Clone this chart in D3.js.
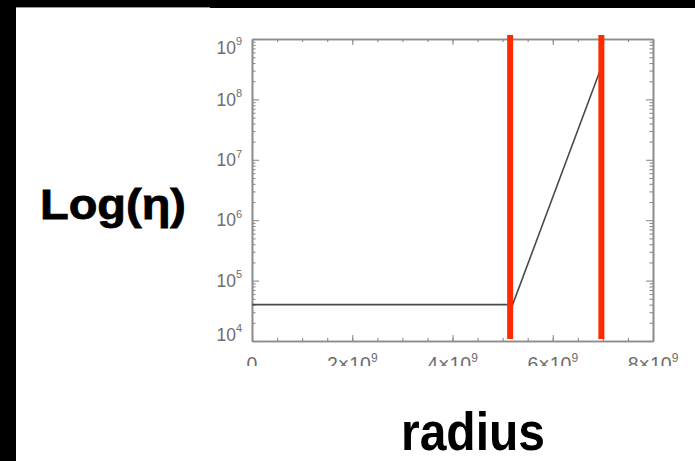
<!DOCTYPE html>
<html><head><meta charset="utf-8">
<script src="https://cdn.jsdelivr.net/npm/d3@7"></script>
<style>body{margin:0;background:#fff}svg{display:block}</style>
</head><body><svg id="c" width="695" height="461"></svg>
<script>
// Data
const radius = [0, 5.2e9, 7.0e9];
const eta = [4e4, 4e4, 4e8];
const boundaries = [5.15e9, 6.97e9];
const xTicks = [0, 2e9, 4e9, 6e9, 8e9];
const xTickMantissa = ["0", "2×10", "4×10", "6×10", "8×10"];
const xTickExp = ["", "9", "9", "9", "9"];
const yTicks = [1e4, 1e5, 1e6, 1e7, 1e8, 1e9];
const yTickExp = ["4", "5", "6", "7", "8", "9"];
const xLabel = "radius";
const yLabel = "Log(η)";

const svg = d3.select("#c");
const L = 252, R = 653, T = 39, B = 341;
const x = d3.scaleLinear().domain([0, 8e9]).range([L, R]);
const y = d3.scaleLog().domain([1e4, 1e9]).range([B, T]);

// frame of the slide
svg.append("rect").attr("x", 0).attr("y", 0).attr("width", 695).attr("height", 461).attr("fill", "#fff");
svg.append("rect").attr("x", 0).attr("y", 0).attr("width", 16).attr("height", 461).attr("fill", "#000");
svg.append("rect").attr("x", 0).attr("y", 0).attr("width", 695).attr("height", 8).attr("fill", "#000");
svg.append("line").attr("x1", 16).attr("x2", 210).attr("y1", 7.5).attr("y2", 7.5).attr("stroke", "#999").attr("stroke-width", 1);

const clip = svg.append("defs").append("clipPath").attr("id", "clipimg");
clip.append("rect").attr("x", 160).attr("y", 8).attr("width", 535).attr("height", 358);
const g = svg.append("g").attr("clip-path", "url(#clipimg)");

const axisColor = "#8c8c8c";
const xMinor = d3.range(0, 8e9 + 1, 0.5e9);
const yMinor = [];
for (let k = 4; k < 9; k++) for (let m = 2; m <= 9; m++) yMinor.push(m * Math.pow(10, k));

function styleAxis(sel) {
  sel.select(".domain").attr("stroke", axisColor).attr("stroke-width", 1.6);
  sel.selectAll(".tick line").attr("stroke", axisColor).attr("stroke-width", 1.1);
}
g.append("g").attr("transform", `translate(0,${B})`).call(d3.axisBottom(x).tickValues(xMinor).tickSize(-3).tickSizeOuter(0).tickFormat("")).call(styleAxis);
g.append("g").attr("transform", `translate(0,${B})`).call(d3.axisBottom(x).tickValues(xTicks).tickSize(-6).tickSizeOuter(0).tickFormat("")).call(styleAxis);
g.append("g").attr("transform", `translate(0,${T})`).call(d3.axisTop(x).tickValues(xMinor).tickSize(-3).tickSizeOuter(0).tickFormat("")).call(styleAxis);
g.append("g").attr("transform", `translate(0,${T})`).call(d3.axisTop(x).tickValues(xTicks).tickSize(-6).tickSizeOuter(0).tickFormat("")).call(styleAxis);
g.append("g").attr("transform", `translate(${L},0)`).call(d3.axisLeft(y).tickValues(yMinor).tickSize(-3.5).tickSizeOuter(0).tickFormat("")).call(styleAxis);
g.append("g").attr("transform", `translate(${L},0)`).call(d3.axisLeft(y).tickValues(yTicks).tickSize(-7).tickSizeOuter(0).tickFormat("")).call(styleAxis);
g.append("g").attr("transform", `translate(${R},0)`).call(d3.axisRight(y).tickValues(yMinor).tickSize(-3.5).tickSizeOuter(0).tickFormat("")).call(styleAxis);
g.append("g").attr("transform", `translate(${R},0)`).call(d3.axisRight(y).tickValues(yTicks).tickSize(-7).tickSizeOuter(0).tickFormat("")).call(styleAxis);

// tick labels
const labColor = "#6e6e6e";
yTicks.forEach((v, i) => {
  const cy = Math.min(Math.max(y(v), T + 8.5), B - 6.5);
  const t = g.append("text").attr("x", 242).attr("y", cy + 6.2).attr("text-anchor", "end")
    .attr("font-family", "Liberation Sans, Arial, sans-serif").attr("font-size", 17.5).attr("fill", labColor);
  t.append("tspan").text("10");
  t.append("tspan").attr("dy", -8.5).attr("font-size", 11).text(yTickExp[i]);
});
xTicks.forEach((v, i) => {
  const t = g.append("text").attr("x", x(v)).attr("y", 371).attr("text-anchor", "middle")
    .attr("font-family", "Liberation Sans, Arial, sans-serif").attr("font-size", 19.5).attr("fill", labColor);
  t.append("tspan").text(xTickMantissa[i]);
  if (xTickExp[i]) t.append("tspan").attr("dy", -9).attr("font-size", 12).text(xTickExp[i]);
});

// data line
const pts = radius.map((r, i) => [r, eta[i]]);
g.append("path").datum(pts)
  .attr("d", d3.line().x(d => x(d[0])).y(d => y(d[1])))
  .attr("fill", "none").attr("stroke", "#4a4a4a").attr("stroke-width", 1.6);

// boundary lines
boundaries.forEach(b => {
  g.append("line").attr("x1", x(b)).attr("x2", x(b)).attr("y1", 35).attr("y2", 339)
    .attr("stroke", "#ff2a00").attr("stroke-width", 6);
});

// axis titles
svg.append("text").attr("x", 40).attr("y", 219).attr("font-family", "Liberation Sans, Arial, sans-serif")
  .attr("font-weight", "bold").attr("font-size", 42).attr("textLength", 146).attr("lengthAdjust", "spacingAndGlyphs")
  .attr("fill", "#000").attr("stroke", "#000").attr("stroke-width", 0.8).text(yLabel);
svg.append("text").attr("x", 401).attr("y", 450).attr("font-family", "Liberation Sans, Arial, sans-serif")
  .attr("font-weight", "bold").attr("font-size", 54).attr("textLength", 144).attr("lengthAdjust", "spacingAndGlyphs")
  .attr("fill", "#000").text(xLabel);
</script></body></html>
